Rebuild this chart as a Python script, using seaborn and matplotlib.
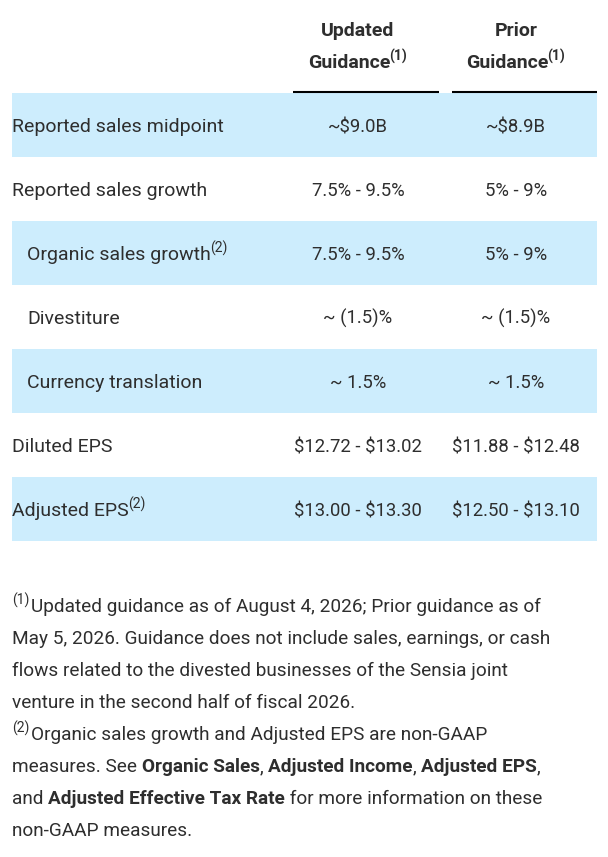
import matplotlib
matplotlib.use("Agg")
import matplotlib.pyplot as plt
import seaborn as sns

# table data
labels = ["Reported sales midpoint", "Reported sales growth", "Organic sales growth",
          "Divestiture", "Currency translation", "Diluted EPS", "Adjusted EPS"]
label_notes = ["", "", "(2)", "", "", "", "(2)"]
indented = [False, False, True, True, True, False, False]
updated = ["~$9.0B", "7.5% - 9.5%", "7.5% - 9.5%", "~ (1.5)%", "~ 1.5%",
           "$12.72 - $13.02", "$13.00 - $13.30"]
prior = ["~$8.9B", "5% - 9%", "5% - 9%", "~ (1.5)%", "~ 1.5%",
         "$11.88 - $12.48", "$12.50 - $13.10"]
shaded = [True, False, True, False, True, False, True]
col_titles = [("Updated", "Guidance"), ("Prior", "Guidance")]
col_note = "(1)"

# footnotes: each line is a list of (text, style) with style in n / b / sup
footnotes = [
    [("(1)", "sup"), ("Updated guidance as of August 4, 2026; Prior guidance as of", "n")],
    [("May 5, 2026. Guidance does not include sales, earnings, or cash", "n")],
    [("flows related to the divested businesses of the Sensia joint", "n")],
    [("venture in the second half of fiscal 2026.", "n")],
    [("(2)", "sup"), ("Organic sales growth and Adjusted EPS are non-GAAP", "n")],
    [("measures. See ", "n"), ("Organic Sales", "b"), (", ", "n"), ("Adjusted Income", "b"),
     (", ", "n"), ("Adjusted EPS", "b"), (",", "n")],
    [("and ", "n"), ("Adjusted Effective Tax Rate", "b"), (" for more information on these", "n")],
    [("non-GAAP measures.", "n")],
]

sns.set_theme(style="white")
plt.rcParams["font.family"] = ["Roboto", "DejaVu Sans"]

W, H = 608, 857
fig = plt.figure(figsize=(W / 100, H / 100), dpi=100)
ax = fig.add_axes([0, 0, 1, 1])
ax.set_xlim(0, W)
ax.set_ylim(H, 0)
ax.axis("off")
renderer = fig.canvas.get_renderer()

TXT = "#2e2e2e"
BLUE = "#cdedfd"
FS = 14.0
FS_VAL = 13.3
FS_NOTE = 13.7
SUP = 10.0

table_left, table_right = 12, 597
row_top, row_h = 93, 64
col_x = [358, 516]
col_span = [(293, 439), (452, 597)]


def width(s, size, weight="normal"):
    t = ax.text(0, 0, s, fontsize=size, fontweight=weight, parse_math=False)
    w = t.get_window_extent(renderer).width
    t.remove()
    return w


def put(x, y, s, size=FS, weight="normal", **kw):
    ax.text(x, y, s, fontsize=size, fontweight=weight, color=TXT,
            va="baseline", ha="left", parse_math=False, **kw)
    sp = width("a a", size, weight) - width("aa", size, weight)
    lead = len(s) - len(s.lstrip(" "))
    trail = len(s) - len(s.rstrip(" "))
    core = s.strip(" ")
    return x + lead * sp + (width(core, size, weight) if core else 0) + trail * sp


# shaded bands
for i, sh in enumerate(shaded):
    if sh:
        ax.barh(row_top + i * row_h, table_right - table_left, height=row_h,
                left=table_left, align="edge", color=BLUE, linewidth=0)

# header
for j, (top, bottom) in enumerate(col_titles):
    ax.text(col_x[j], 36, top, fontsize=FS, fontweight="bold", color=TXT,
            ha="center", va="baseline")
    wmain = width(bottom, FS, "bold")
    wsup = width(col_note, SUP, "bold")
    x0 = col_x[j] - (wmain + wsup) / 2
    x1 = put(x0, 68, bottom, FS, "bold")
    put(x1 - 1, 61, col_note, SUP, "bold")
    ax.plot(col_span[j], [92, 92], color="black", lw=1.5, solid_capstyle="butt")

# rows
for i in range(len(labels)):
    yb = row_top + i * row_h + row_h / 2 + 7
    x = 27 if indented[i] else 12
    x_end = put(x, yb, labels[i])
    if label_notes[i]:
        put(x_end - 1, yb - 7, label_notes[i], SUP)
    ax.text(col_x[0], yb, updated[i], fontsize=FS_VAL, color=TXT, ha="center",
            va="baseline", parse_math=False)
    ax.text(col_x[1], yb, prior[i], fontsize=FS_VAL, color=TXT, ha="center",
            va="baseline", parse_math=False)

# footnotes
for k, line in enumerate(footnotes):
    yb = 612 + k * 32
    x = 12
    for s, style in line:
        if style == "sup":
            x = put(x, yb - 7, s, SUP) + 2
        else:
            x = put(x, yb, s, FS_NOTE, "bold" if style == "b" else "normal")

fig.savefig("out.png", dpi=100)
